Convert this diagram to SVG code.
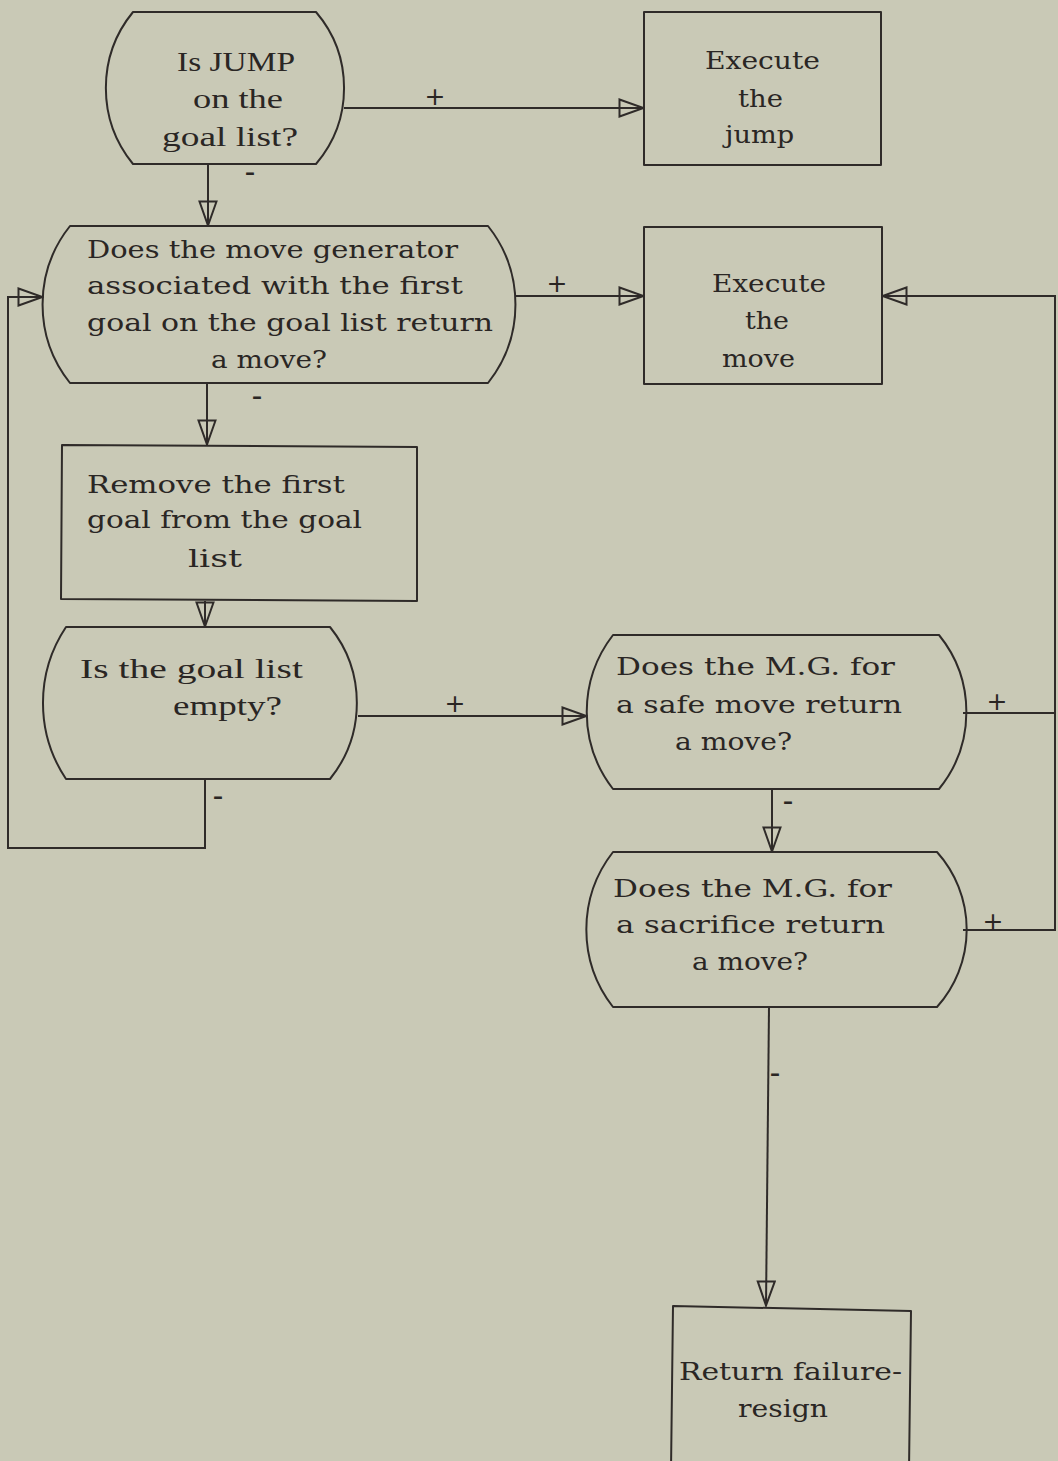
<svg xmlns="http://www.w3.org/2000/svg" width="1058" height="1461" viewBox="0 0 1058 1461">
  <defs>
    <style>
      .bg { fill: #c9c9b6; }
      .shape { fill: none; stroke: #2f2b29; stroke-width: 2; stroke-linejoin: round; }
      .wire { fill: none; stroke: #2f2b29; stroke-width: 2; }
      .tw { font-family: "DejaVu Serif", "Liberation Serif", serif; font-size: 25px; fill: #2a2624; }
      .pl { font-family: "Liberation Serif", "DejaVu Serif", serif; font-size: 28px; fill: #2a2624; }
      .plus { font-family: "DejaVu Sans", sans-serif; font-size: 25px; fill: #2a2624; text-anchor: middle; }
      .minus { font-family: "Liberation Serif", serif; font-size: 30px; font-weight: bold; fill: #2a2624; text-anchor: middle; }
    </style>
    <marker id="open-arrow" viewBox="0 0 27 20" refX="26" refY="10" markerWidth="27" markerHeight="20" markerUnits="userSpaceOnUse" orient="auto">
      <path d="M1.5,1.5 L25.5,10 L1.5,18.5 Z" fill="none" stroke="#2f2b29" stroke-width="2" stroke-linejoin="miter"/>
    </marker>
  </defs>

  <rect class="bg" x="0" y="0" width="1058" height="1461"/>

  <!-- decision: jump on goal list -->
  <g id="jump-check">
    <path class="shape" d="M133,12 L316,12 A117,117 0 0 1 316,164 L133,164 A120,120 0 0 1 133,12 Z"/>
    <text class="pl" x="177" y="71" textLength="118" lengthAdjust="spacingAndGlyphs">Is JUMP</text>
    <text class="pl" x="193" y="108" textLength="90" lengthAdjust="spacingAndGlyphs">on the</text>
    <text class="pl" x="162" y="146" textLength="136" lengthAdjust="spacingAndGlyphs">goal list?</text>
  </g>

  <!-- action: execute the jump -->
  <g id="execute-jump">
    <rect class="shape" x="644" y="12" width="237" height="153"/>
    <text class="tw" x="705" y="69" textLength="115" lengthAdjust="spacingAndGlyphs">Execute</text>
    <text class="tw" x="738" y="107" textLength="45" lengthAdjust="spacingAndGlyphs">the</text>
    <text class="tw" x="725" y="143" textLength="69" lengthAdjust="spacingAndGlyphs">jump</text>
  </g>

  <!-- decision: move generator of first goal -->
  <g id="first-goal-check">
    <path class="shape" d="M70,226 L488,226 A126,126 0 0 1 488,383 L70,383 A126,126 0 0 1 70,226 Z"/>
    <text class="tw" x="87" y="258" textLength="371" lengthAdjust="spacingAndGlyphs">Does the move generator</text>
    <text class="tw" x="87" y="294" textLength="376" lengthAdjust="spacingAndGlyphs">associated with the first</text>
    <text class="tw" x="87" y="331" textLength="406" lengthAdjust="spacingAndGlyphs">goal on the goal list return</text>
    <text class="tw" x="211" y="368" textLength="116" lengthAdjust="spacingAndGlyphs">a move?</text>
  </g>

  <!-- action: execute the move -->
  <g id="execute-move">
    <rect class="shape" x="644" y="227" width="238" height="157"/>
    <text class="tw" x="712" y="292" textLength="114" lengthAdjust="spacingAndGlyphs">Execute</text>
    <text class="tw" x="745" y="329" textLength="44" lengthAdjust="spacingAndGlyphs">the</text>
    <text class="tw" x="722" y="367" textLength="73" lengthAdjust="spacingAndGlyphs">move</text>
  </g>

  <!-- action: drop first goal -->
  <g id="remove-goal">
    <path class="shape" d="M62,445 L417,447 L417,601 L61,599 Z"/>
    <text class="tw" x="87" y="493" textLength="258" lengthAdjust="spacingAndGlyphs">Remove the first</text>
    <text class="tw" x="87" y="528" textLength="275" lengthAdjust="spacingAndGlyphs">goal from the goal</text>
    <text class="tw" x="188" y="567" textLength="54" lengthAdjust="spacingAndGlyphs">list</text>
  </g>

  <!-- decision: goal list empty -->
  <g id="empty-check">
    <path class="shape" d="M66,627 L330,627 A121,121 0 0 1 330,779 L66,779 A137,137 0 0 1 66,627 Z"/>
    <text class="pl" x="80" y="678" textLength="223" lengthAdjust="spacingAndGlyphs">Is the goal list</text>
    <text class="pl" x="173" y="715" textLength="109" lengthAdjust="spacingAndGlyphs">empty?</text>
  </g>

  <!-- decision: safe move generator -->
  <g id="safe-move-check">
    <path class="shape" d="M613,635 L939,635 A122,122 0 0 1 939,789 L613,789 A126,126 0 0 1 613,635 Z"/>
    <text class="tw" x="616" y="675" textLength="279" lengthAdjust="spacingAndGlyphs">Does the M.G. for</text>
    <text class="tw" x="616" y="713" textLength="286" lengthAdjust="spacingAndGlyphs">a safe move return</text>
    <text class="tw" x="675" y="750" textLength="117" lengthAdjust="spacingAndGlyphs">a move?</text>
  </g>

  <!-- decision: sacrifice move generator -->
  <g id="sacrifice-check">
    <path class="shape" d="M613,852 L937,852 A116,116 0 0 1 937,1007 L613,1007 A126,126 0 0 1 613,852 Z"/>
    <text class="tw" x="613" y="897" textLength="279" lengthAdjust="spacingAndGlyphs">Does the M.G. for</text>
    <text class="tw" x="616" y="933" textLength="269" lengthAdjust="spacingAndGlyphs">a sacrifice return</text>
    <text class="tw" x="692" y="970" textLength="116" lengthAdjust="spacingAndGlyphs">a move?</text>
  </g>

  <!-- action: give up -->
  <g id="resign">
    <path class="shape" d="M671,1470 L673,1306 L911,1311 L909,1470"/>
    <text class="tw" x="679" y="1380" textLength="223" lengthAdjust="spacingAndGlyphs">Return failure-</text>
    <text class="tw" x="738" y="1417" textLength="90" lengthAdjust="spacingAndGlyphs">resign</text>
  </g>

  <!-- connectors -->
  <g id="connectors">
    <path class="wire" d="M344,108 L644,108" marker-end="url(#open-arrow)"/>
    <path class="wire" d="M208,164 L208,226" marker-end="url(#open-arrow)"/>
    <path class="wire" d="M515,296 L644,296" marker-end="url(#open-arrow)"/>
    <path class="wire" d="M207,383 L207,445" marker-end="url(#open-arrow)"/>
    <path class="wire" d="M205,601 L205,627" marker-end="url(#open-arrow)"/>
    <path class="wire" d="M358,716 L587,716" marker-end="url(#open-arrow)"/>
    <path class="wire" d="M205,779 L205,848 L8,848 L8,297 L43,297" marker-end="url(#open-arrow)"/>
    <path class="wire" d="M963,713 L1055,713"/>
    <path class="wire" d="M963,930 L1055,930 L1055,296 L882,296" marker-end="url(#open-arrow)"/>
    <path class="wire" d="M772,789 L772,852" marker-end="url(#open-arrow)"/>
    <path class="wire" d="M769,1007 L766,1306" marker-end="url(#open-arrow)"/>

    <!-- branch signs -->
    <text class="plus" x="435" y="105">+</text>
    <text class="plus" x="557" y="292">+</text>
    <text class="plus" x="455" y="712">+</text>
    <text class="plus" x="997" y="710">+</text>
    <text class="plus" x="993" y="930">+</text>
    <text class="minus" x="250" y="181">-</text>
    <text class="minus" x="257" y="405">-</text>
    <text class="minus" x="218" y="805">-</text>
    <text class="minus" x="788" y="810">-</text>
    <text class="minus" x="775" y="1082">-</text>
  </g>
</svg>
